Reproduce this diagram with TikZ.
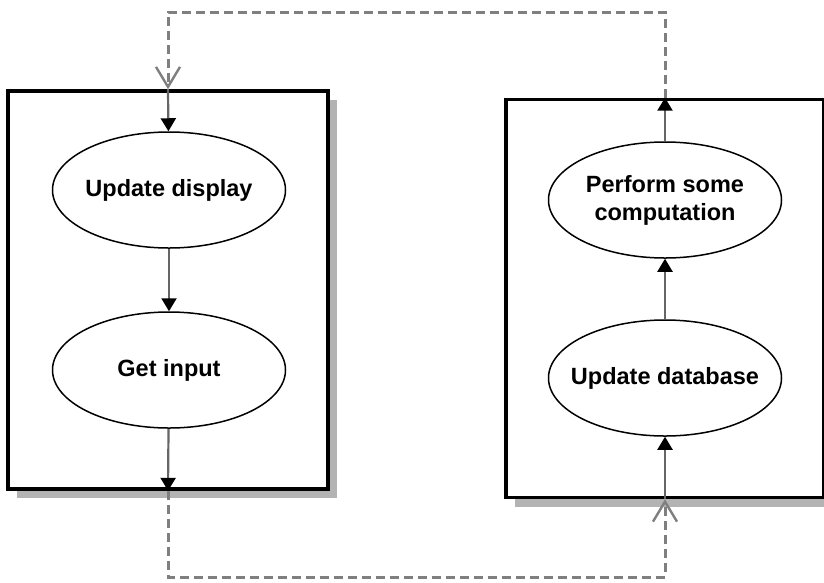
\documentclass[tikz,border=0pt]{standalone}
\usepackage{fontspec}
\setmainfont{Liberation Sans}
\usetikzlibrary{arrows.meta,shapes.geometric,shadows}
\definecolor{linegray}{HTML}{666666}
\definecolor{dashgray}{HTML}{7F7F7F}
\definecolor{shadowgray}{HTML}{B3B3B3}
\tikzset{
	frame/.style={draw,line width=3.6pt,fill=white,inner sep=0pt,
		drop shadow={shadow xshift=9pt,shadow yshift=-9pt,fill=shadowgray,opacity=1}},
	task/.style={draw,ellipse,line width=1.5pt,minimum width=233pt,minimum height=116pt,
		inner xsep=-40pt,inner ysep=-10pt,align=center,font=\fontsize{23.5}{28}\selectfont\bfseries},
	flow/.style={draw=linegray,line width=2.2pt,-{Triangle[length=13pt,width=15pt,color=black]}},
	loop/.style={draw=dashgray,line width=3pt,dash pattern=on 9pt off 5pt,
		-{Straight Barb[length=20pt,width=24pt,line width=2.4pt]}}
}
\begin{document}
\begin{tikzpicture}[x=1pt,y=-1pt]
	\useasboundingbox (0,0) rectangle (824,582);

	\node[frame,minimum width=320pt,minimum height=398pt] (leftbox) at (168,290) {};
	\node[frame,minimum width=318pt,minimum height=398pt] (rightbox) at (665,298.5) {};

	\node[task] (disp) at (169,190) {Update display};
	\node[task] (input) at (169,370) {Get input};
	\node[task] (comp) at (665,200) {Perform some\\computation};
	\node[task] (db) at (665,378) {Update database};

	\coordinate (top) at (0,12);
	\coordinate (bottom) at (0,577);

	\draw[flow] (leftbox.north) -- (disp);
	\draw[flow] (disp) -- (input);
	\draw[flow] (input) -- (leftbox.south);
	\draw[flow] (rightbox.south) -- (db);
	\draw[flow] (db) -- (comp);
	\draw[flow] (comp) -- (rightbox.north);

	\draw[loop] (rightbox.north) -- (rightbox.north |- top) -- (leftbox.north |- top) -- (leftbox.north);
	\draw[loop] (leftbox.south) -- (leftbox.south |- bottom) -- (rightbox.south |- bottom) -- (rightbox.south);
\end{tikzpicture}
\end{document}
